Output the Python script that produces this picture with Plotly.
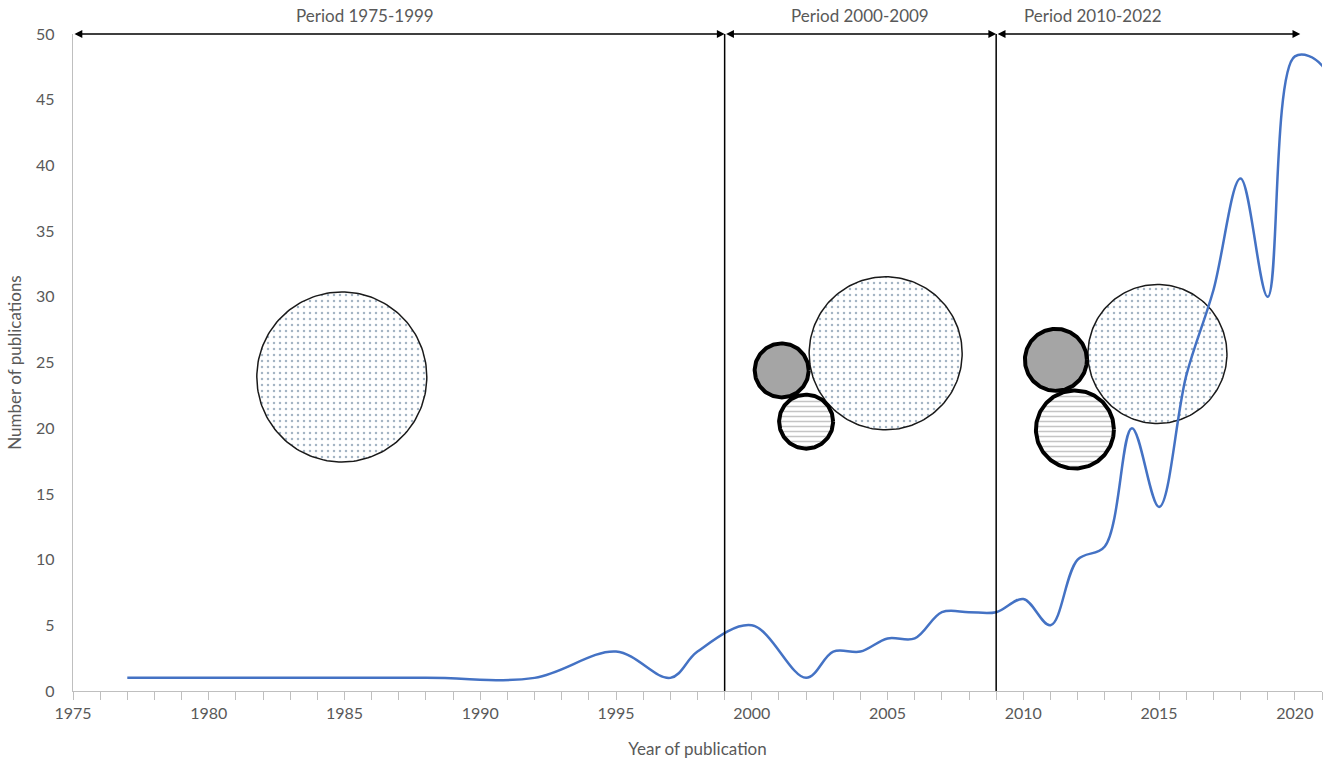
import numpy as np
import plotly.graph_objects as go

# ---- data ----
years = [1977, 1988, 1992, 1995, 1997, 1998, 2000, 2002, 2003, 2004, 2005, 2006, 2007,
         2008, 2009, 2010, 2011, 2012, 2013, 2014, 2015, 2016, 2017, 2018, 2019, 2020, 2021, 2022]
publications = [1, 1, 1, 3, 1, 3, 5, 1, 3, 3, 4, 4, 6,
                6, 6, 7, 5, 10, 11, 20, 14, 24, 30.5, 39, 30, 48.3, 47.6, 35]

period_bounds = [1975, 1999, 2009, 2020.2]
period_labels = ["Period 1975-1999", "Period 2000-2009", "Period 2010-2022"]
period_label_x = [1985.75, 2004.0, 2012.55]

# circles: (center year, center publications, radius px, style)
circles_x = [1984.9, 2004.93, 2001.1, 2002.0, 2014.94, 2011.2, 2011.9]
circles_y = [23.9, 25.7, 24.4, 20.5, 25.65, 25.2, 19.9]
circles_r = [85, 76.5, 27, 27, 69.5, 31, 39]
circles_style = ["dot", "dot", "gray", "stripe", "dot", "gray", "stripe"]

# ---- layout geometry ----
W, H = 1325, 771
ML, MR, MT, MB = 73, 3, 34, 80
XR = [1975, 2021]
YR = [0, 50]
pw, ph = W - ML - MR, H - MT - MB
px_per_x = pw / (XR[1] - XR[0])
px_per_y = ph / (YR[1] - YR[0])

fig = go.Figure()

t = np.linspace(0, 2 * np.pi, 181)
for cx, cy, r, st in zip(circles_x, circles_y, circles_r, circles_style):
    xs = cx + r * np.cos(t) / px_per_x
    ys = cy + r * np.sin(t) / px_per_y
    if st == "dot":
        kw = dict(fillcolor="white",
                  fillpattern=dict(shape=".", size=6, solidity=0.14, fgcolor="#4a6a88", bgcolor="white"),
                  line=dict(color="#1a1a1a", width=1.5))
    elif st == "gray":
        kw = dict(fillcolor="#a5a5a5", line=dict(color="black", width=4))
    else:
        kw = dict(fillcolor="white",
                  fillpattern=dict(shape="-", size=5, solidity=0.3, fgcolor="#8a8a8a", bgcolor="white"),
                  line=dict(color="black", width=4))
    fig.add_trace(go.Scatter(x=xs, y=ys, mode="lines", fill="toself", hoverinfo="skip",
                             showlegend=False, **kw))

fig.add_trace(go.Scatter(x=years, y=publications, mode="lines",
                         line=dict(color="#4472C4", width=2.5, shape="spline", smoothing=1.0),
                         showlegend=False))

# vertical period boundaries
for xb in period_bounds[1:3]:
    fig.add_shape(type="line", x0=xb, x1=xb, y0=0, y1=YR[1], xref="x", yref="y",
                  line=dict(color="black", width=1.5), layer="above")

# double-headed arrows
for a, b in zip(period_bounds[:-1], period_bounds[1:]):
    fig.add_annotation(x=b, y=YR[1], ax=a, ay=YR[1], xref="x", yref="y", axref="x", ayref="y",
                       text="", showarrow=True, arrowhead=2, startarrowhead=2, arrowside="end+start",
                       arrowsize=1.2, startarrowsize=1.2, arrowwidth=1.3, arrowcolor="black")

for lx, lt in zip(period_label_x, period_labels):
    fig.add_annotation(x=lx, y=1 + (MT - 15) / ph, xref="x", yref="paper", text=lt,
                       showarrow=False, font=dict(size=17, color="#595959"), yanchor="middle")

font = "Lato, 'Open Sans', sans-serif"
fig.update_layout(
    width=W, height=H, margin=dict(l=ML, r=MR, t=MT, b=MB, autoexpand=False),
    paper_bgcolor="white", plot_bgcolor="white",
    font=dict(family=font, color="#595959", size=16),
    xaxis=dict(range=XR, dtick=5, tick0=1975, showgrid=False, zeroline=False, automargin=False,
               showline=True, linecolor="#bfbfbf", linewidth=1.3,
               ticks="outside", ticklen=8, tickcolor="#bfbfbf",
               minor=dict(dtick=1, ticks="outside", ticklen=8, tickcolor="#bfbfbf", showgrid=False),
               title=dict(text="Year of publication", font=dict(size=17, color="#595959"), standoff=21),
               tickfont=dict(size=16, color="#595959")),
    yaxis=dict(range=YR, dtick=5, showgrid=False, zeroline=False, automargin=False,
               showline=True, linecolor="#bfbfbf", linewidth=1.3, ticks="",
               ticklabelstandoff=14,
               title=dict(text="Number of publications", font=dict(size=17, color="#595959"), standoff=10),
               tickfont=dict(size=16, color="#595959")),
)

fig.write_html("out.html", config={"displayModeBar": False},
               post_script="document.body.style.margin='0';document.body.style.overflow='hidden';")
